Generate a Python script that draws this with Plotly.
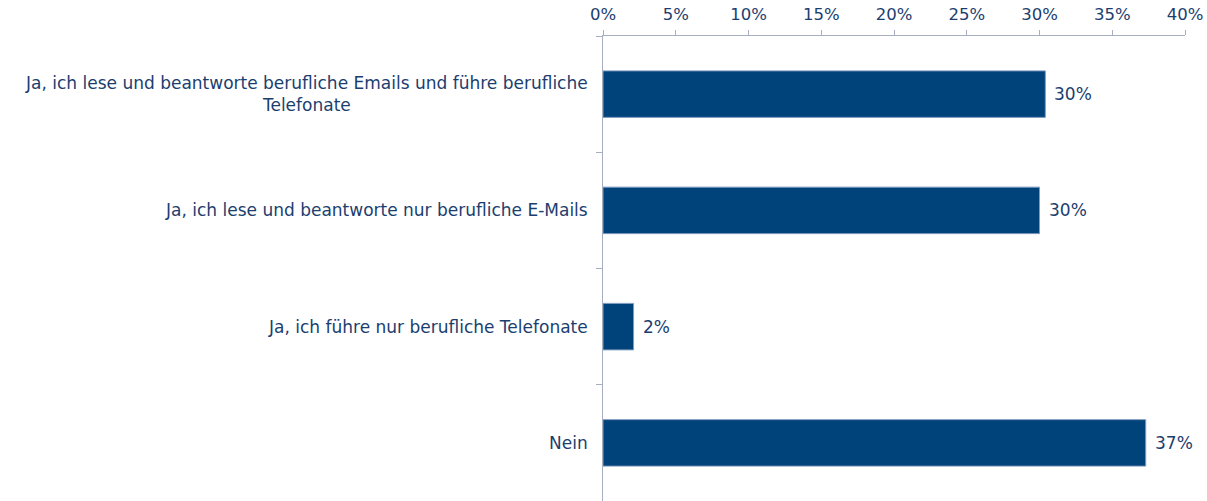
import plotly.graph_objects as go

categories = [
    "Ja, ich lese und beantworte berufliche Emails und führe berufliche<br>Telefonate",
    "Ja, ich lese und beantworte nur berufliche E-Mails",
    "Ja, ich führe nur berufliche Telefonate",
    "Nein",
]
values = [0.304, 0.300, 0.021, 0.373]
value_labels = ["30%", "30%", "2%", "37%"]
x_ticks = [0, 0.05, 0.10, 0.15, 0.20, 0.25, 0.30, 0.35, 0.40]
x_tick_labels = ["0%", "5%", "10%", "15%", "20%", "25%", "30%", "35%", "40%"]

TEXT = "#1B3E6F"
BAR = "#00427A"
AXIS = "#A6AEBF"
FONT = "DejaVu Sans"
FS = 17

fig = go.Figure()
fig.add_trace(go.Bar(
    y=categories,
    x=values,
    orientation="h",
    width=0.4,
    marker=dict(color=BAR, line=dict(color="#7F9CC0", width=1)),
    hoverinfo="x+y",
))

for cat, v, lab in zip(categories, values, value_labels):
    fig.add_annotation(
        x=0, xref="paper", y=cat, yref="y",
        text=cat, showarrow=False,
        xanchor="right", yanchor="middle", align="center",
        xshift=-13,
        font=dict(family=FONT, size=FS, color=TEXT),
    )
    fig.add_annotation(
        x=v, xref="x", y=cat, yref="y",
        text=lab, showarrow=False,
        xanchor="left", yanchor="middle",
        xshift=7,
        font=dict(family=FONT, size=FS, color=TEXT),
    )

fig.update_layout(
    width=1207, height=501,
    margin=dict(l=603, r=22, t=36, b=0, autoexpand=False),
    paper_bgcolor="white", plot_bgcolor="white",
    showlegend=False,
    bargap=0.6,
    font=dict(family=FONT, size=FS, color=TEXT),
)
fig.update_xaxes(
    side="top", range=[0, 0.40], automargin=False,
    tickvals=x_ticks, ticktext=x_tick_labels,
    ticks="outside", ticklen=5, tickcolor=AXIS, tickwidth=1,
    showline=True, linecolor=AXIS, linewidth=1,
    showgrid=False, zeroline=False,
    ticklabelstandoff=3,
    tickfont=dict(family=FONT, size=16.5, color=TEXT),
)
fig.update_yaxes(
    autorange="reversed", automargin=False,
    showticklabels=False,
    ticks="outside", ticklen=6, tickcolor=AXIS, tickson="boundaries",
    showline=True, linecolor=AXIS, linewidth=1,
    showgrid=False, zeroline=False,
)

fig.write_html(
    "out.html",
    config={"displayModeBar": False},
    post_script="document.body.style.margin='0';document.body.style.overflow='hidden';",
)
